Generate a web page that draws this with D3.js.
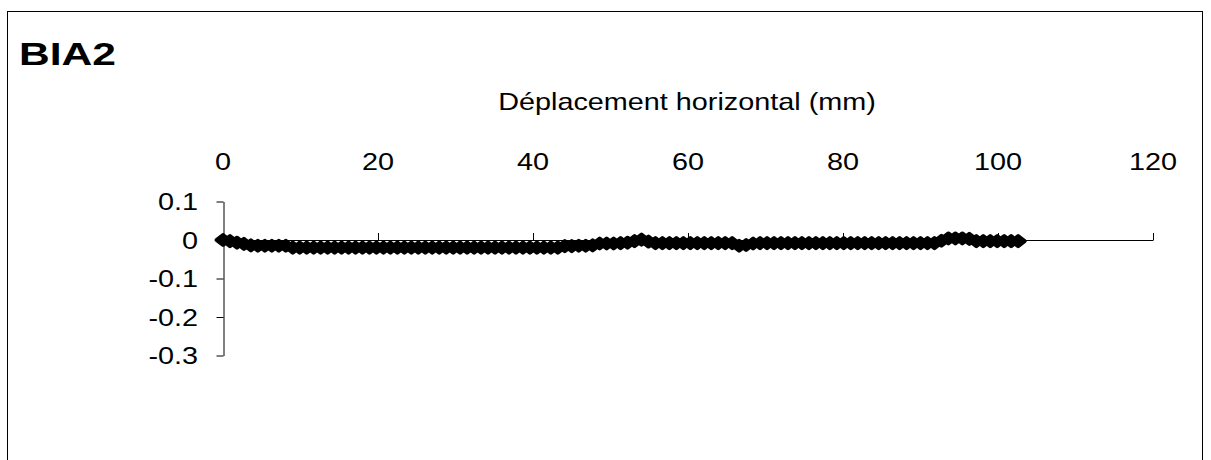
<!DOCTYPE html>
<html>
<head>
<meta charset="utf-8">
<script src="https://cdn.jsdelivr.net/npm/d3@7"></script>
<style>
  html, body { margin: 0; padding: 0; background: #fff; }
  svg { display: block; }
  text { font-family: "Liberation Sans", Arial, sans-serif; fill: #000; }
</style>
</head>
<body>
<svg id="chart" width="1211" height="460"></svg>
<script>
// ---- data ----
const chartTitle = "BIA2";
const xAxisTitle = "Déplacement horizontal (mm)";
const xTicks = [0, 20, 40, 60, 80, 100, 120];
const yTicks = [0.1, 0, -0.1, -0.2, -0.3];
const yTickLabels = ["0.1", "0", "-0.1", "-0.2", "-0.3"];

const dispX = [0,0.9,1.8,2.7,3.6,4.5,5.4,6.3,7.2,8.1,9,9.9,10.8,11.7,12.6,13.5,14.4,15.3,16.2,17.1,18,18.9,19.8,20.7,21.6,22.5,23.4,24.3,25.2,26.1,27,27.9,28.8,29.7,30.6,31.5,32.4,33.3,34.2,35.1,36,36.9,37.8,38.7,39.6,40.5,41.4,42.3,43.2,44.1,45,45.9,46.8,47.7,48.6,49.5,50.4,51.3,52.2,53.1,54,54.9,55.8,56.7,57.6,58.5,59.4,60.3,61.2,62.1,63,63.9,64.8,65.7,66.6,67.5,68.4,69.3,70.2,71.1,72,72.9,73.8,74.7,75.6,76.5,77.4,78.3,79.2,80.1,81,81.9,82.8,83.7,84.6,85.5,86.4,87.3,88.2,89.1,90,90.9,91.8,92.7,93.6,94.5,95.4,96.3,97.2,98.1,99,99.9,100.8,101.7,102.6];
const dispY = [0,-0.003,-0.007,-0.01,-0.014,
  -0.015,-0.015,-0.015,-0.015,-0.015,
  -0.02,-0.02,-0.02,-0.02,-0.02,-0.02,-0.02,-0.02,-0.02,-0.02,
  -0.02,-0.02,-0.02,-0.02,-0.02,-0.02,-0.02,-0.02,-0.02,-0.02,
  -0.02,-0.02,-0.02,-0.02,-0.02,-0.02,-0.02,-0.02,-0.02,-0.02,
  -0.02,-0.02,-0.02,-0.02,-0.02,-0.02,-0.02,-0.02,-0.02,
  -0.016,-0.016,-0.015,-0.015,-0.014,
  -0.009,-0.009,-0.009,-0.008,-0.007,
  -0.003,0.001,-0.004,
  -0.008,-0.008,-0.008,-0.008,-0.008,-0.008,-0.008,-0.008,-0.008,-0.008,-0.008,-0.008,
  -0.015,-0.013,
  -0.009,-0.008,-0.008,-0.008,-0.008,-0.008,-0.008,-0.008,-0.008,-0.008,
  -0.008,-0.008,-0.008,-0.008,-0.008,-0.008,-0.008,-0.008,-0.008,-0.008,
  -0.008,-0.008,-0.008,-0.008,-0.008,-0.008,-0.008,
  -0.002,0.004,0.004,0.004,0.003,
  -0.003,-0.003,-0.003,-0.003,-0.003,-0.003,-0.003];

// ---- layout ----
const svg = d3.select("#chart");
const x = d3.scaleLinear().domain([0, 120]).range([223, 1153]);
const y = d3.scaleLinear().domain([-0.3, 0.1]).range([355.5, 201.5]);
const sx = 1.2;
const fs = 24;

// background + border
svg.append("rect").attr("x", 0).attr("y", 0).attr("width", 1211).attr("height", 460).attr("fill", "#fff");
svg.append("rect").attr("x", 7.5).attr("y", 11.5).attr("width", 1195).attr("height", 470)
  .attr("fill", "none").attr("stroke", "#000").attr("stroke-width", 1);

// title
svg.append("text").attr("transform", "translate(19,65) scale(1.33,1)")
  .attr("font-size", 32).attr("font-weight", "bold").text(chartTitle);

// axis title
svg.append("text").attr("transform", "translate(687,110) scale(" + sx + ",1)")
  .attr("font-size", fs).attr("text-anchor", "middle").text(xAxisTitle);

// x axis (crosses at y=0, ticks upward, labels at top)
const xAxis = svg.append("g").attr("transform", "translate(0," + Math.round(y(0)) + ")")
  .call(d3.axisTop(x).tickValues(xTicks).tickSize(7).tickSizeOuter(0).tickFormat(""));
xAxis.selectAll("path, line").attr("stroke", "#000");

svg.selectAll(".xlab").data(xTicks).enter().append("text")
  .attr("class", "xlab")
  .attr("transform", d => "translate(" + x(d) + ",170) scale(" + sx + ",1)")
  .attr("font-size", fs).attr("text-anchor", "middle").text(d => d);

// y axis
const yAxis = svg.append("g").attr("transform", "translate(223.5,0)")
  .call(d3.axisLeft(y).tickValues(yTicks).tickSize(7).tickSizeOuter(0).tickFormat(""));
yAxis.selectAll("path, line").attr("stroke", "#000");

svg.selectAll(".ylab").data(yTicks).enter().append("text")
  .attr("class", "ylab")
  .attr("transform", d => "translate(198," + (y(d) + 8.5) + ") scale(" + sx + ",1)")
  .attr("font-size", fs).attr("text-anchor", "end").text((d, i) => yTickLabels[i]);

// series
const pts = dispX.map((d, i) => [d, dispY[i]]);
svg.append("path").datum(pts)
  .attr("fill", "none").attr("stroke", "#000").attr("stroke-width", 2)
  .attr("d", d3.line().x(d => x(d[0])).y(d => y(d[1])));

const diamond = "M0,-5L6.5,0L0,5L-6.5,0Z";
svg.selectAll(".mk").data(pts).enter().append("path")
  .attr("class", "mk")
  .attr("transform", d => "translate(" + x(d[0]) + "," + y(d[1]) + ")")
  .attr("d", diamond).attr("fill", "#000").attr("stroke", "#000")
  .attr("stroke-width", 4).attr("stroke-linejoin", "round");
</script>
</body>
</html>
